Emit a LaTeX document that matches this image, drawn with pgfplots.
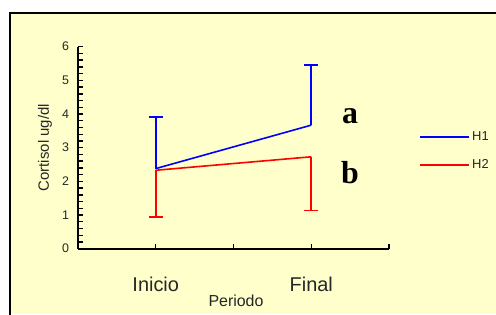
\documentclass[border=0pt]{standalone}
\usepackage{pgfplots}
\pgfplotsset{compat=1.18}
\usepackage{fontspec}
\setmainfont{Liberation Sans}
\newfontfamily\serifbold{Liberation Serif}
\definecolor{bgyellow}{RGB}{255,255,204}
\begin{document}
\begin{tikzpicture}[x=1bp,y=1bp]
\useasboundingbox (-78,-65.3) rectangle (418,248.7);
\fill[white] (-78,-65.3) rectangle (418,248.7);
\fill[bgyellow] (-68,-65.3) rectangle (418,235.7);
\draw[line width=2bp] (-68,-70) -- (-68,235.7) -- (425,235.7);
\begin{axis}[at={(0,0)}, anchor=south west, scale only axis,
  width=311bp, height=202bp,
  xmin=0, xmax=4, ymin=0, ymax=6,
  axis lines=left, axis line style={-, line width=1.8bp},
  xtick={1,2,3,4}, xticklabels={Inicio,,Final,},
  ytick={0,1,2,3,4,5,6}, minor y tick num=4,
  tick align=inside, major tick length=5bp, minor tick length=5bp,
  tick style={black, line width=1.4bp},
  /pgf/number format/assume math mode=true,
  xticklabel style={font=\fontsize{20}{20}\selectfont, anchor=base, yshift=-42.3bp, text=black!85},
  yticklabel style={font=\fontsize{12.5}{12.5}\selectfont, xshift=-5.5bp, text=black!85},
  xlabel={Periodo},
  xlabel style={font=\fontsize{16}{16}\selectfont, at={(axis description cs:0.508,-0.2837)}, anchor=base, text=black!85},
  ylabel={Cortisol ug/dl},
  ylabel style={font=\fontsize{15}{15}\selectfont, at={(axis description cs:-0.106,0.5)}, anchor=center, text=black!85},
  legend entries={H1,H2},
  legend image code/.code={\draw[#1, line width=2bp] (0bp,0bp) -- (49bp,0bp);},
  legend style={at={(axis cs:4.386,3.55)}, anchor=north west, draw=none, fill=none,
    font=\fontsize{13}{13}\selectfont, text=black!85, inner sep=0pt, row sep=13.5bp,
    nodes={inner sep=2bp}},
  legend cell align=left,
  clip=false,
]
\addplot[blue, line width=1.6bp,
  error bars/.cd, y dir=plus, y explicit,
  error bar style={line width=1.6bp},
  error mark options={blue, line width=1.6bp, mark size=7bp, rotate=90}]
  coordinates {(1,2.38) +- (0,1.54) (3,3.67) +- (0,1.79)};
\addplot[red, line width=1.6bp,
  error bars/.cd, y dir=minus, y explicit,
  error bar style={line width=1.6bp},
  error mark options={red, line width=1.6bp, mark size=7bp, rotate=90}]
  coordinates {(1,2.33) +- (0,1.38) (3,2.73) +- (0,1.60)};
\node[anchor=base, font=\serifbold\bfseries\fontsize{32}{32}\selectfont] at (axis cs:3.498,3.724) {a};
\node[anchor=base, font=\serifbold\bfseries\fontsize{32}{32}\selectfont] at (axis cs:3.498,1.942) {b};
\end{axis}
\end{tikzpicture}
\end{document}
